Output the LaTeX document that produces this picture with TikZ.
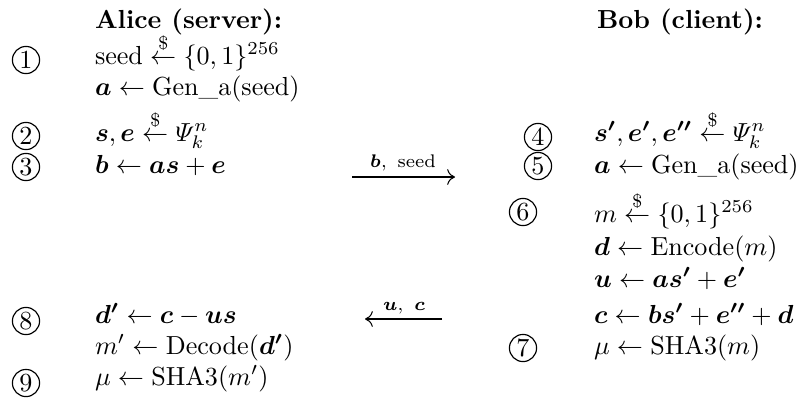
\documentclass[tikz,border=0pt]{standalone}
\usepackage{amsmath,amssymb,bm}
\usetikzlibrary{arrows.meta}
\newcommand{\rnd}{\overset{\$}{\leftarrow}}
\begin{document}
\begin{tikzpicture}[x=0.3831pt,y=-0.3831pt,
  txt/.style={anchor=base west,inner sep=0pt,outer sep=0pt},
  num/.style={circle,draw,line width=0.45pt,inner sep=0pt,minimum size=10.4pt,font=\normalsize},
  lbl/.style={anchor=base,inner sep=0pt,font=\scriptsize},
  msg/.style={line width=0.4pt,-{Computer Modern Rightarrow[length=3pt,width=6pt]}}]
\useasboundingbox (0,0) rectangle (802,399);
% headers
\node[txt] (ha) at (95,28) {\textbf{Alice (server):}};
\node[txt] (hb) at (597,28) {\textbf{Bob (client):}};
% Alice
\node[num] (c1) at (26,60) {1};
\node[txt] (a1) at (95,64) {$\text{seed} \rnd \{0,1\}^{256}$};
\node[txt] (a1b) at (95,95) {$\bm{a} \leftarrow \text{Gen\_a}(\text{seed})$};
\node[num] (c2) at (26,136) {2};
\node[txt] (a2) at (95,141) {$\bm{s},\bm{e} \rnd \varPsi_k^n$};
\node[num] (c3) at (26,167) {3};
\node[txt] (a3) at (95,173) {$\bm{b} \leftarrow \bm{a}\bm{s} + \bm{e}$};
\node[num] (c8) at (26,321) {8};
\node[txt] (a8) at (95,323) {$\bm{d'} \leftarrow \bm{c} - \bm{u}\bm{s}$};
\node[txt] (a8b) at (95,354) {$m' \leftarrow \text{Decode}(\bm{d'})$};
\node[num] (c9) at (26,383) {9};
\node[txt] (a9) at (95,385) {$\mu \leftarrow \text{SHA3}(m')$};
% Bob
\node[num] (c4) at (538,137) {4};
\node[txt] (b4) at (594,141) {$\bm{s'},\bm{e'},\bm{e''} \rnd \varPsi_k^n$};
\node[num] (c5) at (538,166) {5};
\node[txt] (b5) at (594,173) {$\bm{a} \leftarrow \text{Gen\_a}(\text{seed})$};
\node[num] (c6) at (523,212) {6};
\node[txt] (b6) at (594,222) {$m \rnd \{0,1\}^{256}$};
\node[txt] (b6b) at (594,255) {$\bm{d} \leftarrow \text{Encode}(m)$};
\node[txt] (b6c) at (594,287) {$\bm{u} \leftarrow \bm{a}\bm{s'} + \bm{e'}$};
\node[txt] (b6d) at (594,323) {$\bm{c} \leftarrow \bm{b}\bm{s'} + \bm{e''} + \bm{d}$};
\node[num] (c7) at (523,348) {7};
\node[txt] (b7) at (594,354) {$\mu \leftarrow \text{SHA3}(m)$};
% messages
\coordinate (m1s) at (352,177);
\coordinate (m1e) at (455,177);
\draw[msg] (m1s) -- (m1e);
\node[lbl] (l1) at (403,167) {$\bm{b},\ \text{seed}$};
\coordinate (m2s) at (442,319);
\coordinate (m2e) at (365,319);
\draw[msg] (m2s) -- (m2e);
\node[lbl] (l2) at (404,310) {$\bm{u},\ \bm{c}$};
\end{tikzpicture}
\end{document}
